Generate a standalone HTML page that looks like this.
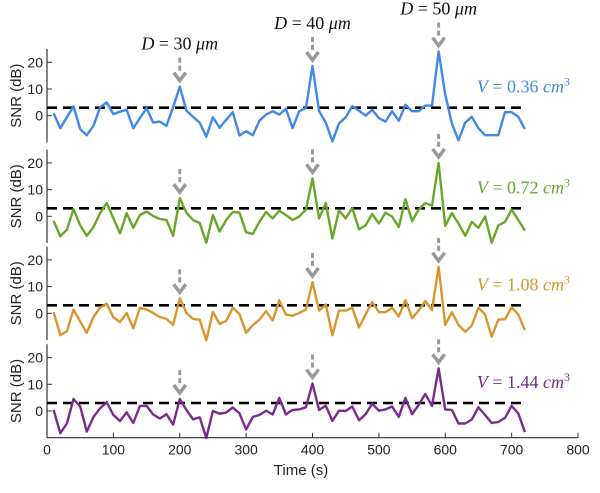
<!DOCTYPE html>
<html><head><meta charset="utf-8"><style>
body{margin:0;background:#fff;width:600px;height:488px;overflow:hidden}
svg text{font-family:"Liberation Sans",sans-serif}
.mt{font-family:"Liberation Serif",serif}
.it{font-style:italic}
</style></head><body>
<svg id="chart" width="600" height="488" viewBox="0 0 600 488" xmlns="http://www.w3.org/2000/svg"></svg>
<script>
const times = Array.from({length:72},(_, i)=>10+10*i);
const snrV036 = [0.9,-4.7,-0.6,3.5,-5,-7.3,-3.8,3.2,5,0.6,1.5,2.2,-4.7,-0.9,2.8,-2.6,-2.2,-3.8,3.2,10.9,1.9,-0.4,-2.6,-7.9,-0.6,-4.5,-1.5,1.3,-7.4,-5.8,-7.3,-1.9,0.4,1.7,0.4,2.6,-4.7,1.7,2.8,18.6,1.7,-2.6,-9.6,-2.9,-0.6,3.6,1.9,0,2.2,-0.9,-2.2,1.7,-1.9,4.1,1.7,1.7,3.8,3.8,24,8,-3,-9.2,-2.6,-0.4,-4.7,-7.3,-7.3,-7.3,1.3,1.3,-0.4,-5];
const snrV072 = [-1.7,-7.5,-5,2.7,-3.4,-7.3,-4,1.2,5,-0.8,-6.4,1.2,-4.3,0.5,1.8,0.1,-1,-1.4,-7.3,6.8,1.4,-1.4,-2.5,-9.9,0.5,-5.7,-1.4,1.6,1.4,-6,-6.6,-2.1,1.6,-0.8,2.1,0.5,-1.4,-0.1,2.5,14.2,-0.8,5,-8.3,2.2,-0.8,3.1,-4.9,-3.4,0.9,-2.7,1.4,-0.1,-4,6.4,-1.8,2.5,5,4,20,-3.6,1.2,-2.7,-7.3,-2.1,-4.3,-0.1,-9.9,-3.4,-2.1,2.5,-1.4,-5.3];
const snrV108 = [0.5,-8.2,-6.7,1.4,-3.1,-7.3,-1.4,2.1,3.6,-1.5,-3.3,0.1,-5.6,2.1,1.4,0.1,-1.4,-2.1,-4.4,5.6,0.1,-2.1,-2.4,-10.1,0.5,-4,-2.8,2.1,-0.3,-7.3,-4.4,-2.4,0.8,-2.7,4.9,-0.5,-0.9,0.1,1.4,11.7,1,3.3,-8.2,1,1,2.1,-5.3,-0.5,4.2,0.4,0.4,2.1,-1.2,4.9,-1.8,1,4.6,1.2,17.4,-4.4,0.4,-4.4,-6.9,-4.6,2.1,-0.5,-8.8,-2.4,-2.2,2.3,-0.5,-6.3];
const snrV144 = [0.4,-8.3,-4.7,4.5,1.7,-7.7,-2.2,1,3.3,-1.5,-3.8,-0.5,-4.5,1.9,1.9,-1.3,-2.8,-1.2,-5.1,4.5,0.4,-3.1,-2.4,-10.1,0,-1,-0.6,1.3,-0.9,-6.9,-2.2,-1.5,0.1,-1.3,4.9,-1.3,0.4,0.6,1.4,10.3,0.4,2,-3.7,0.1,0,1.7,-3.5,-1.2,2.7,0.1,0.6,1.7,-2.2,4.9,-1.2,2.3,6.4,1.9,16,0.6,0.4,-4.7,-4.7,-3.2,1.4,-1.5,-4.5,-4.1,-2.6,1.9,-0.9,-7.9];
const seriesLabels = ["0.36","0.72","1.08","1.44"];
const seriesColors = ["#4189e6","#67a82a","#d9962f","#7b2a8e"];
const arrowTimes = [200,400,590];
const diameterLabels = ["30","40","50"];
const threshold = 3;
const xTicks = [0,100,200,300,400,500,600,700,800];
const yTicks = [0,10,20];

const allSeries=[snrV036,snrV072,snrV108,snrV144];
const zeros=[115.7,216.3,313.3,411];
const ppd=2.67;
const X0=47, XS=(578-47)/800;
const xs=t=>X0+t*XS;
const NS="http://www.w3.org/2000/svg";
const svg=document.getElementById('chart');
function mk(tag,attrs,parent){const e=document.createElementNS(NS,tag);for(const k in attrs)e.setAttribute(k,attrs[k]);(parent||svg).appendChild(e);return e;}

allSeries.forEach((data,p)=>{
  const z=zeros[p];
  const ys=v=>z-v*ppd;
  const g=mk('g',{});
  
  
  const ax=mk('line',{x1:X0,x2:X0,y1:ys(25),y2:ys(-10),stroke:'#333','stroke-width':1.2},g);
  
  
  yTicks.forEach(v=>{
    const tk=mk('line',{x1:X0,x2:X0+5,y1:ys(v),y2:ys(v),stroke:'#333','stroke-width':1},g);
    
    
    const tl=mk('text',{x:X0-4,y:ys(v)+5,'text-anchor':'end','font-size':14,fill:'#222'},g);
    tl.textContent=v;
    
    
  });
  const yl=mk('text',{x:0,y:0,'text-anchor':'middle','font-size':15,fill:'#222',transform:`translate(21,${ys(7.5)}) rotate(-90)`},g);
  yl.textContent='SNR (dB)';
  
  
  const th=mk('line',{x1:X0,x2:xs(720)+2,y1:ys(threshold),y2:ys(threshold),stroke:'#000','stroke-width':2.6,'stroke-dasharray':'10 6'},g);
  
  
  const pts=data.map((v,i)=>xs(times[i]).toFixed(1)+','+ys(v).toFixed(1)).join(' ');
  const pl=mk('polyline',{points:pts,fill:'none',stroke:seriesColors[p],'stroke-width':2.4,'stroke-linejoin':'round'},g);
  
  
  arrowTimes.forEach((t,k)=>{
    const idx=times.indexOf(t);
    const tip=ys(data[idx])-4;
    const x=xs(t);
    const ag=mk('g',{},g);
    
    
    mk('line',{x1:x,x2:x,y1:tip-25,y2:tip-10,stroke:'#999','stroke-width':3,'stroke-dasharray':'5 3'},ag);
    mk('polyline',{points:`${x-6},${tip-10} ${x},${tip-2} ${x+6},${tip-10}`,fill:'none',stroke:'#999','stroke-width':3.5},ag);
    if(p===0){
      const dl=mk('text',{x:x,y:tip-33,'text-anchor':'middle','font-size':18,fill:'#111',class:'mt'},svg);
      dl.innerHTML='<tspan class="it">D</tspan> = '+diameterLabels[k]+' <tspan class="it">μm</tspan>';
      
      
    }
  });
  const lg=mk('text',{x:570,y:z-23,'text-anchor':'end','font-size':18,fill:seriesColors[p],class:'mt'},g);
  lg.innerHTML='<tspan class="it">V</tspan> = '+seriesLabels[p]+' <tspan class="it">cm</tspan><tspan dy="-7" font-size="12">3</tspan>';
  
  
});
const by=zeros[3]+10*ppd;
const xa=mk('line',{x1:X0,x2:578,y1:by,y2:by,stroke:'#333','stroke-width':1.2});


xTicks.forEach(t=>{
  const tk=mk('line',{x1:xs(t),x2:xs(t),y1:by,y2:by-5,stroke:'#333','stroke-width':1});
  
  
  const tl=mk('text',{x:xs(t),y:by+17,'text-anchor':'middle','font-size':14,fill:'#222'});
  tl.textContent=t;
  
  
});
const xt=mk('text',{x:301,y:475,'text-anchor':'middle','font-size':15,fill:'#222'});
xt.textContent='Time (s)';


</script>
</body></html>
